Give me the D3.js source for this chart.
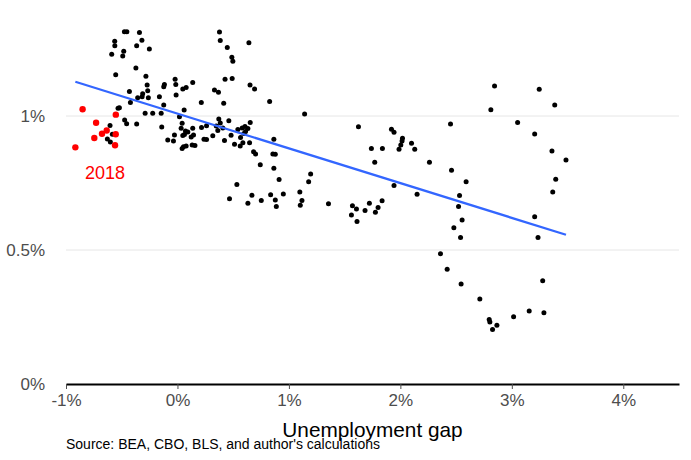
<!DOCTYPE html>
<html>
<head>
<meta charset="utf-8">
<script src="https://cdn.jsdelivr.net/npm/d3@7"></script>
<style>
  body { margin: 0; background: #fff; }
  text { font-family: "Liberation Sans", Arial, sans-serif; }
</style>
</head>
<body>
<svg id="chart" width="691" height="460"></svg>
<script>
// unemployment gap (%) for each quarter
let gapAll = [
  -0.476,-0.454,-0.341,-0.563,-0.562,-0.319,-0.366,-0.252,-0.482,-0.590,
  -0.491,-0.373,-0.554,-0.283,-0.117,-0.123,-0.021,-0.015,-0.272,-0.431,
  -0.267,-0.312,-0.317,-0.357,-0.261,-0.162,-0.012,-0.422,-0.521,-0.123,
  -0.290,-0.222,-0.146,-0.474,-0.456,-0.366,-0.141,-0.027,-0.036,-0.087,
  -0.533,-0.605,-0.584,-0.629,-0.602,
  0.048,0.078,0.137,0.214,0.060,0.018,0.042,0.033,0.072,0.063,
  0.093,0.137,0.144,0.123,0.048,0.054,0.078,0.042,0.132,0.157,
  0.216,0.261,0.238,0.261,0.317,0.332,0.368,0.427,0.491,0.377,
  0.384,0.447,0.641,0.488,0.497,0.651,0.692,0.415,0.827,1.141,
  0.371,0.384,0.348,0.362,0.407,0.461,0.422,0.481,0.512,0.563,
  0.587,0.647,0.542,0.581,0.606,0.632,0.611,0.596,0.566,0.653,
  0.683,0.701,0.865,0.856,0.878,0.743,0.865,0.912,0.533,0.467,
  0.668,0.632,0.752,0.836,0.878,0.887,0.950,1.195,1.177,1.098,
  1.117,1.102,1.355,
  1.624,1.920,1.943,2.019,2.015,2.004,1.988,2.100,2.129,1.740,
  1.839,1.770,2.261,1.943,2.150,1.570,1.606,1.561,1.611,1.683,
  1.722,1.800,1.776,1.836,
  2.845,3.246,3.385,2.812,2.450,3.052,3.205,3.360,3.486,2.459,
  2.590,2.531,2.522,2.554,2.480,2.540,3.394,3.367,3.205,3.235,
  2.360,2.420,2.545,2.713,3.277,2.797,2.803,2.827,2.866,3.016,
  3.156,3.288
];

// y value (%) for each quarter, same order as gapAll
let valueAll = [
  1.314,1.314,1.312,1.279,1.262,1.283,1.262,1.250,1.242,1.230,
  1.224,1.179,1.154,1.148,1.118,1.109,1.137,1.118,1.116,1.091,
  1.094,1.083,1.072,1.068,1.068,1.072,1.078,1.050,1.031,1.041,
  1.010,1.010,1.010,0.985,0.971,0.970,0.959,0.929,0.907,0.910,
  1.029,0.965,0.932,0.914,0.903,
  1.101,1.106,1.125,1.050,1.022,0.997,0.973,0.954,0.944,0.931,
  0.940,0.954,0.929,0.922,0.927,0.885,0.888,0.879,0.892,0.890,
  0.957,0.964,0.913,0.912,0.926,1.097,1.089,1.137,1.140,1.313,
  1.282,1.256,1.273,1.219,1.204,1.116,1.101,1.048,1.054,1.007,
  0.989,0.974,0.963,0.946,0.955,0.982,0.909,0.928,0.895,0.888,
  0.900,0.900,0.950,0.955,0.961,0.953,0.942,0.935,0.920,0.976,
  0.867,0.858,0.913,0.858,0.857,0.818,0.805,0.763,0.744,0.691,
  0.704,0.674,0.685,0.706,0.687,0.662,0.709,0.784,0.755,0.716,
  0.685,0.667,0.673,
  0.960,0.951,0.939,0.917,0.907,0.892,0.876,0.898,0.876,0.879,
  0.879,0.827,0.827,0.741,0.708,0.665,0.653,0.631,0.606,0.647,
  0.674,0.659,0.641,0.684,
  1.112,1.100,1.041,1.023,0.970,0.976,0.933,0.869,0.836,0.798,
  0.755,0.703,0.662,0.612,0.583,0.547,0.764,0.716,0.624,0.547,
  0.486,0.428,0.373,0.317,0.385,0.241,0.231,0.203,0.219,0.251,
  0.272,0.266
];

// 2018 quarters, highlighted in red
let gap2018   = [-0.851,-0.730,-0.553,-0.746,-0.677,-0.635,-0.554,-0.560,-0.916];
let value2018 = [ 1.025, 0.975, 1.005, 0.918, 0.934, 0.946, 0.932, 0.891, 0.883];

// linear fit
let fitIntercept = 1.009;
let fitSlope = -0.1297;

let xTicks = [-1, 0, 1, 2, 3, 4];
let yTicks = [0, 0.5, 1];
let label2018 = {text: "2018", x: -0.65, y: 0.79};

let svg = d3.select("#chart");

let x = d3.scaleLinear().domain([-1, 4.5]).range([66, 679]);
let y = d3.scaleLinear().domain([0, 1]).range([384, 116]);

let fmt = d => (d < 0 ? "-" : "") + Math.abs(d) + "%";

// grid lines
svg.append("g")
  .selectAll("line")
  .data(yTicks.filter(d => d > 0))
  .enter().append("line")
  .attr("x1", x(-1)).attr("x2", x(4.5))
  .attr("y1", d => y(d)).attr("y2", d => y(d))
  .attr("stroke", "#e6e6e6")
  .attr("stroke-width", 1);

// y labels (no axis line)
svg.append("g")
  .selectAll("text")
  .data(yTicks)
  .enter().append("text")
  .attr("x", 45)
  .attr("y", d => y(d))
  .attr("dy", "0.36em")
  .attr("text-anchor", "end")
  .attr("fill", "#4d4d4d")
  .style("font-size", "17px")
  .text(fmt);

// x axis
let xAxis = svg.append("g")
  .attr("transform", "translate(0,384)")
  .call(d3.axisBottom(x).tickValues(xTicks).tickFormat(fmt).tickSize(5).tickPadding(5).tickSizeOuter(0));

xAxis.select(".domain").attr("stroke", "#000").attr("stroke-width", 2);
xAxis.selectAll(".tick line").attr("stroke", "#4d4d4d").attr("stroke-width", 1);
xAxis.selectAll(".tick text")
  .attr("fill", "#4d4d4d")
  .style("font-size", "17px")
  .style("font-family", "'Liberation Sans', Arial, sans-serif");

// points
let pts = gapAll.map((g, i) => ({g: g, v: valueAll[i]}));
svg.append("g")
  .selectAll("circle")
  .data(pts)
  .enter().append("circle")
  .attr("cx", d => x(d.g))
  .attr("cy", d => y(d.v))
  .attr("r", 2.5)
  .attr("fill", "#000");

let pts18 = gap2018.map((g, i) => ({g: g, v: value2018[i]}));
svg.append("g")
  .selectAll("circle")
  .data(pts18)
  .enter().append("circle")
  .attr("cx", d => x(d.g))
  .attr("cy", d => y(d.v))
  .attr("r", 3.2)
  .attr("fill", "#ff0000");

// fitted line over the range of the data
let ext = d3.extent(gapAll.concat(gap2018));
svg.append("line")
  .attr("x1", x(ext[0])).attr("y1", y(fitIntercept + fitSlope * ext[0]))
  .attr("x2", x(ext[1])).attr("y2", y(fitIntercept + fitSlope * ext[1]))
  .attr("stroke", "#3366ff")
  .attr("stroke-width", 2.3);

svg.append("text")
  .attr("x", x(label2018.x))
  .attr("y", y(label2018.y))
  .attr("dy", "0.36em")
  .attr("text-anchor", "middle")
  .attr("fill", "#ff0000")
  .style("font-size", "18px")
  .text(label2018.text);

// titles
svg.append("text")
  .attr("x", (x(-1) + x(4.5)) / 2)
  .attr("y", 437)
  .attr("text-anchor", "middle")
  .attr("fill", "#000")
  .style("font-size", "20.8px")
  .text("Unemployment gap");

svg.append("text")
  .attr("x", 66)
  .attr("y", 449)
  .attr("fill", "#000")
  .style("font-size", "14px")
  .text("Source: BEA, CBO, BLS, and author's calculations");
</script>
</body>
</html>
